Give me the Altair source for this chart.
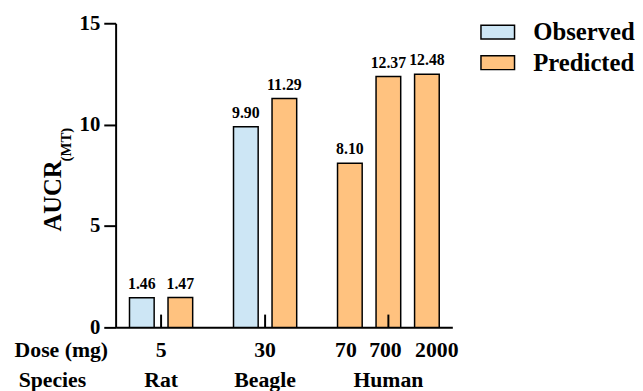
import altair as alt
import pandas as pd

# ---- data ----
species = ["Rat", "Rat", "Beagle", "Beagle", "Human", "Human", "Human"]
doses = ["5", "5", "30", "30", "70", "700", "2000"]
series = ["Observed", "Predicted", "Observed", "Predicted", "Predicted", "Predicted", "Predicted"]
values = [1.46, 1.47, 9.90, 11.29, 8.10, 12.37, 12.48]
y_ticks = [0, 5, 10, 15]
series_order = ["Observed", "Predicted"]
colors = ["#CDE6F5", "#FFC27F"]

FONT = "'Liberation Serif', 'Times New Roman', serif"

# ---- layout: slot positions derived from grouping ----
GROUP_GAP = 1.7
HALF_BAR = 0.32
pos = []
p = 0.0
for i, s in enumerate(species):
    if i > 0:
        p += 1.0 if s == species[i - 1] else GROUP_GAP
    pos.append(p)

bars = pd.DataFrame({"species": species, "dose": doses, "series": series,
                     "value": values, "pos": pos})
bars["x0"] = bars["pos"] - HALF_BAR
bars["x1"] = bars["pos"] + HALF_BAR

groups = list(dict.fromkeys(species))
centers = pd.DataFrame({"species": groups,
                        "pos": [bars.loc[bars.species == g, "pos"].mean() for g in groups]})

dose_rows = []
for g in groups:
    sub = bars[bars.species == g]
    uniq = list(dict.fromkeys(sub.dose))
    if len(uniq) == 1:
        dose_rows.append({"label": uniq[0], "pos": sub.pos.mean()})
    else:
        for d, pp in zip(sub.dose, sub.pos):
            dose_rows.append({"label": d, "pos": pp})
dose_df = pd.DataFrame(dose_rows)

# small horizontal nudges (pixels) of the crowded dose labels
label_nudge = {"70": -4, "700": -3, "2000": 10}

xscale = alt.Scale(domain=[min(pos) - 0.68, max(pos) + 0.66], nice=False, zero=False)
yscale = alt.Scale(domain=[0, 15], nice=False)

bar_layer = alt.Chart(bars).mark_bar(stroke="black", strokeWidth=1.5).encode(
    x=alt.X("x0:Q", scale=xscale,
            axis=alt.Axis(labels=False, ticks=False, title=None, grid=False,
                          domainWidth=2, domainColor="black")),
    x2="x1:Q",
    y=alt.Y("value:Q", scale=yscale,
            axis=alt.Axis(values=y_ticks, title=None, grid=False, domainWidth=2,
                          domainColor="black", tickColor="black", tickWidth=2,
                          tickSize=12, labelFont=FONT, labelFontSize=21,
                          labelFontWeight="bold", labelColor="black", labelPadding=4)),
    y2=alt.datum(0),
    color=alt.Color("series:N", scale=alt.Scale(domain=series_order, range=colors),
                    legend=alt.Legend(title=None, orient="none", legendX=369, legendY=-9,
                                      symbolType="M-1,-0.41H1V0.41H-1Z", symbolSize=1156,
                                      symbolStrokeColor="black", symbolStrokeWidth=1.5,
                                      labelFont=FONT, labelFontSize=25, labelFontWeight="bold",
                                      labelColor="black", labelOffset=18, rowPadding=0,
                                      padding=0)),
)

value_layer = alt.Chart(bars).mark_text(
    dy=-9, baseline="alphabetic", font=FONT, fontSize=16, fontWeight="bold", color="black"
).encode(x=alt.X("pos:Q", scale=xscale), y=alt.Y("value:Q", scale=yscale),
         text=alt.Text("value:Q", format=".2f"))

tick_layer = alt.Chart(centers).mark_rule(color="black", strokeWidth=2).encode(
    x=alt.X("pos:Q", scale=xscale), y=alt.datum(0), y2=alt.datum(0.63))

dose_layers = []
for lbl in dose_df["label"]:
    dose_layers.append(
        alt.Chart(dose_df[dose_df.label == lbl]).mark_text(
            baseline="alphabetic", font=FONT, fontSize=22, fontWeight="bold",
            color="black", dx=label_nudge.get(lbl, 0)
        ).encode(x=alt.X("pos:Q", scale=xscale), y=alt.value(338), text="label:N")
    )

species_layer = alt.Chart(centers).mark_text(
    baseline="alphabetic", font=FONT, fontSize=22, fontWeight="bold", color="black"
).encode(x=alt.X("pos:Q", scale=xscale), y=alt.value(368), text="species:N")

row_dose = alt.Chart(pd.DataFrame({"t": ["Dose (mg)"]})).mark_text(
    baseline="alphabetic", font=FONT, fontSize=22, fontWeight="bold", color="black"
).encode(x=alt.value(-55), y=alt.value(338), text="t:N")

row_species = alt.Chart(pd.DataFrame({"t": ["Species"]})).mark_text(
    baseline="alphabetic", font=FONT, fontSize=22, fontWeight="bold", color="black"
).encode(x=alt.value(-64), y=alt.value(368), text="t:N")

title_main = alt.Chart(pd.DataFrame({"t": ["AUCR"]})).mark_text(
    angle=270, align="left", baseline="alphabetic", font=FONT, fontSize=25,
    fontWeight="bold", color="black"
).encode(x=alt.value(-55), y=alt.value(211), text="t:N")

title_sub = alt.Chart(pd.DataFrame({"t": ["(MT)"]})).mark_text(
    angle=270, align="left", baseline="alphabetic", font=FONT, fontSize=15,
    fontWeight="bold", color="black"
).encode(x=alt.value(-45), y=alt.value(140), text="t:N")

chart = alt.layer(
    bar_layer, tick_layer, value_layer, *dose_layers, species_layer,
    row_dose, row_species, title_main, title_sub
).properties(
    width=341, height=308,
    autosize=alt.AutoSizeParams(type="none"),
    padding={"left": 109, "top": 13, "right": 185, "bottom": 62},
).configure_view(strokeWidth=0)

chart.save("out.html", embed_options={"renderer": "svg", "actions": False})
